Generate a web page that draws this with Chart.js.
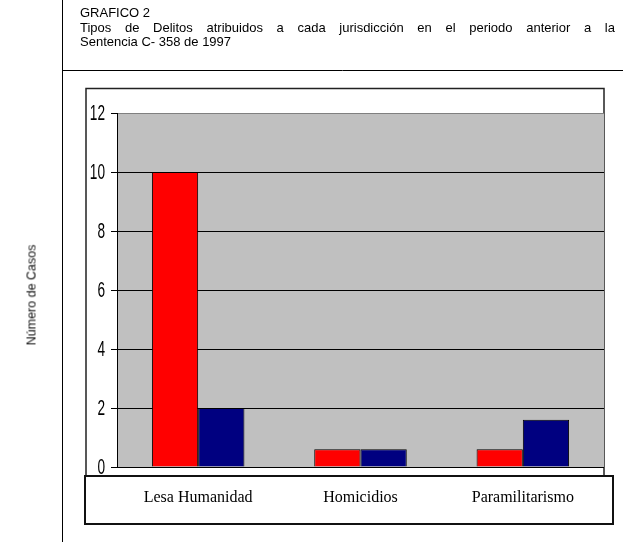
<!DOCTYPE html>
<html>
<head>
<meta charset="utf-8">
<script src="https://cdn.jsdelivr.net/npm/chart.js@4/dist/chart.umd.min.js"></script>
<style>
    html, body { margin: 0; padding: 0; background: #fff; }
    #wrap { position: relative; width: 623px; height: 542px; }
    #chart { position: absolute; left: 0; top: 0; }
    .txt { position: absolute; font-family: 'Liberation Sans', Arial, sans-serif; font-size: 13px; color: #000; white-space: nowrap; line-height: 15px; }
    #line2 { width: 535px; text-align: justify; text-align-last: justify; white-space: normal; }
    #ytitle { left: 32px; top: 295px; transform: translate(-50%, -50%) rotate(-90deg); font-size: 12.5px; color: #111; }
</style>
</head>
<body>
<div id="wrap">
    <canvas id="chart" width="623" height="542"></canvas>
    <div class="txt" style="left:80px; top:5px;">GRAFICO 2</div>
    <div class="txt" id="line2" style="left:80px; top:20px;">Tipos de Delitos atribuidos a cada jurisdicción en el periodo anterior a la</div>
    <div class="txt" style="left:80px; top:34px;">Sentencia C- 358 de 1997</div>
    <div class="txt" id="ytitle">Número de Casos</div>
</div>
<script>
const categories = ['Lesa Humanidad', 'Homicidios', 'Paramilitarismo'];
const serieRoja = [10, 0.6, 0.6];
const serieAzul = [2, 0.6, 1.6];
const yTicks = [0, 2, 4, 6, 8, 10, 12];

// marco, caja interior, fondo gris y caja de categorias
const framePlugin = {
    id: 'frame',
    beforeDraw(chart) {
        const { ctx, chartArea: a } = chart;
        ctx.save();
        ctx.fillStyle = '#fff';
        ctx.fillRect(0, 0, chart.width, chart.height);

        ctx.strokeStyle = '#000';
        ctx.lineWidth = 1;
        ctx.beginPath();
        ctx.moveTo(62.5, 0);
        ctx.lineTo(62.5, 542);
        ctx.moveTo(62, 70.5);
        ctx.lineTo(623, 70.5);
        ctx.stroke();

        // caja interior
        ctx.strokeStyle = '#222';
        ctx.lineWidth = 1.5;
        ctx.strokeRect(86, 88.5, a.right - 86, 390);

        // area de trazado
        ctx.fillStyle = '#c0c0c0';
        ctx.fillRect(a.left, a.top, a.right - a.left, a.bottom - a.top);

        // caja de categorias
        ctx.fillStyle = '#fff';
        ctx.fillRect(85, 476, 528, 48);
        ctx.strokeStyle = '#111';
        ctx.lineWidth = 2;
        ctx.strokeRect(85, 476, 528, 48);
        ctx.restore();
    },
    // etiquetas del eje y en letra alta y estrecha
    afterDraw(chart) {
        const { ctx } = chart;
        const y = chart.scales.y;
        ctx.save();
        ctx.fillStyle = '#000';
        ctx.font = "22px 'Liberation Sans', Arial, sans-serif";
        ctx.textAlign = 'right';
        ctx.textBaseline = 'middle';
        for (const t of y.ticks) {
            ctx.save();
            ctx.translate(y.right - 12, y.getPixelForValue(t.value) + 1);
            ctx.scale(0.62, 1);
            ctx.fillText(String(t.value), 0, 0);
            ctx.restore();
        }
        ctx.restore();
    }
};

new Chart(document.getElementById('chart'), {
    type: 'bar',
    data: {
        labels: categories,
        datasets: [
            {
                label: 'Serie 1',
                data: serieRoja,
                backgroundColor: '#ff0000',
                borderColor: '#000',
                borderWidth: 1
            },
            {
                label: 'Serie 2',
                data: serieAzul,
                backgroundColor: '#000080',
                borderColor: '#000',
                borderWidth: 1
            }
        ]
    },
    options: {
        responsive: false,
        animation: false,
        layout: { padding: { left: 85, top: 113, right: 19, bottom: 35 } },
        datasets: { bar: { categoryPercentage: 0.57, barPercentage: 1 } },
        plugins: {
            legend: { display: false },
            title: { display: false },
            tooltip: { enabled: false }
        },
        scales: {
            x: {
                grid: { display: false, drawTicks: false },
                border: { display: false },
                ticks: {
                    padding: 21,
                    color: '#000',
                    font: { family: "'Liberation Serif', 'Times New Roman', serif", size: 16 }
                },
                afterFit(scale) { scale.height = 40; }
            },
            y: {
                min: 0,
                max: 12,
                afterBuildTicks(scale) { scale.ticks = yTicks.map(v => ({ value: v })); },
                grid: {
                    color: ctx => (ctx.tick && ctx.tick.value === 12) ? '#808080' : '#000',
                    tickColor: '#000',
                    tickLength: 6,
                    lineWidth: 1
                },
                border: { display: true, color: '#000', width: 1 },
                ticks: { display: false },
                afterFit(scale) { scale.width = 32; }
            }
        }
    },
    plugins: [framePlugin]
});
</script>
</body>
</html>
